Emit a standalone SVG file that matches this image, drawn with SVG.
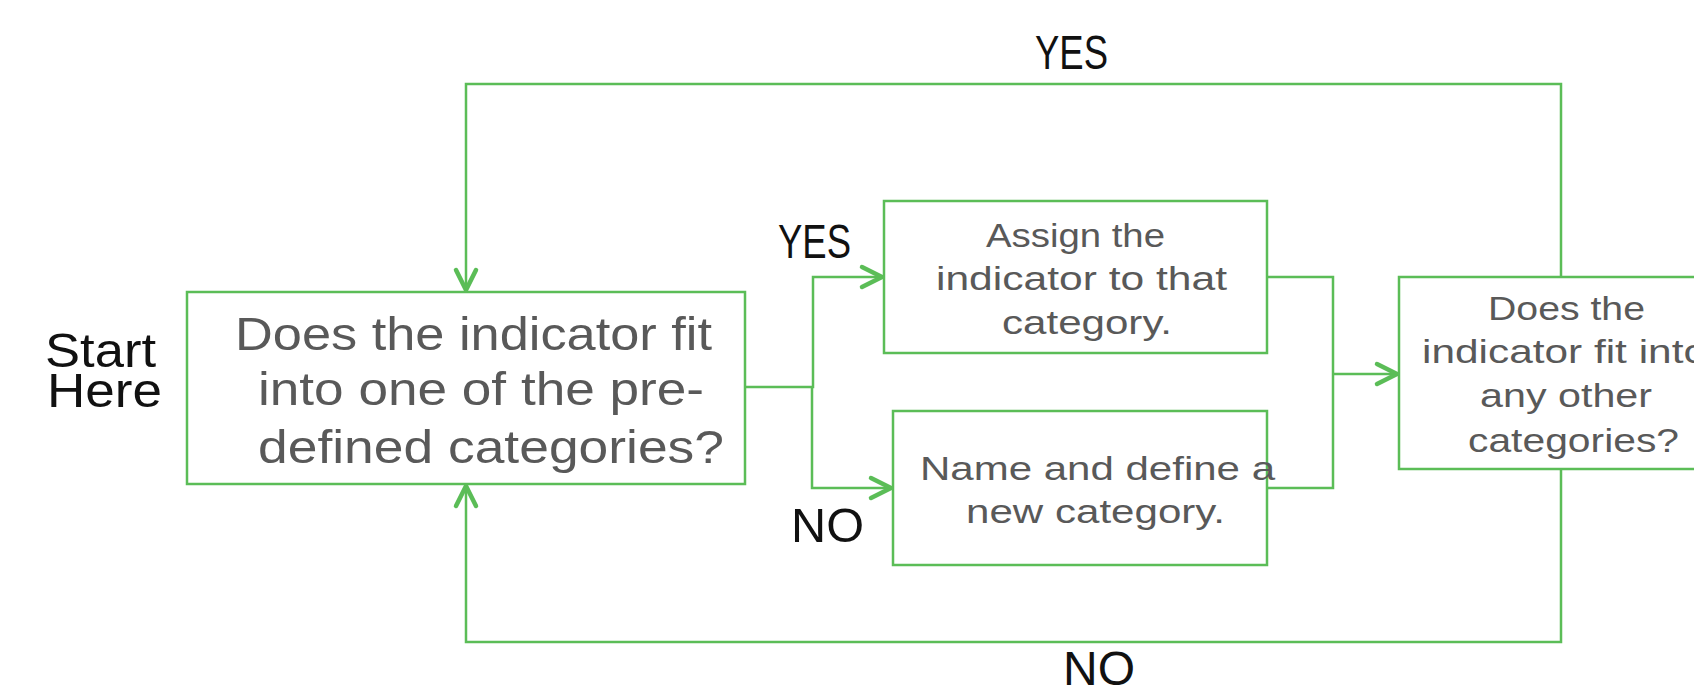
<svg xmlns="http://www.w3.org/2000/svg" width="1694" height="695" viewBox="0 0 1694 695">
  <style>
    .box { fill: #ffffff; stroke: #5BBD57; stroke-width: 2.5; }
    .conn { fill: none; stroke: #5BBD57; stroke-width: 2.5; }
    .t { font-family: "Liberation Sans", Arial, sans-serif; fill: #595959; }
    .big { font-size: 47px; }
    .mid { font-size: 33px; }
    .lab { font-family: "Liberation Sans", Arial, sans-serif; fill: #111111; font-size: 48px; }
  </style>
  <defs>
    <marker id="arr" viewBox="-24 -14 28 28" refX="0" refY="0" markerWidth="28" markerHeight="28" markerUnits="userSpaceOnUse" orient="auto">
      <path d="M -20 -10 L 0 0 L -20 10" fill="none" stroke="#5BBD57" stroke-width="4.5" stroke-linecap="round" stroke-linejoin="round"/>
    </marker>
  </defs>
  <rect width="1694" height="695" fill="#ffffff"/>

  <g id="connectors">
    <polyline class="conn" points="745,387 813,387 813,277 882,277" marker-end="url(#arr)"/>
    <polyline class="conn" points="812,387 812,488 891,488" marker-end="url(#arr)"/>
    <polyline class="conn" points="1267,277 1333,277 1333,488 1267,488"/>
    <polyline class="conn" points="1333,374 1397,374" marker-end="url(#arr)"/>
    <polyline class="conn" points="1561,277 1561,84 466,84 466,290" marker-end="url(#arr)"/>
    <polyline class="conn" points="1561,469 1561,642 466,642 466,486" marker-end="url(#arr)"/>
  </g>

  <g id="start-label">
    <text class="lab" font-size="52"><tspan x="45" y="367" textLength="111" lengthAdjust="spacingAndGlyphs">Start</tspan><tspan x="47" y="407" textLength="115" lengthAdjust="spacingAndGlyphs">Here</tspan></text>
  </g>

  <g id="node-question1">
    <rect class="box" x="187" y="292" width="558" height="192"/>
    <text class="t big" x="235" y="350" textLength="477" lengthAdjust="spacingAndGlyphs">Does the indicator fit</text>
    <text class="t big" x="258" y="405" textLength="446" lengthAdjust="spacingAndGlyphs">into one of the pre-</text>
    <text class="t big" x="258" y="463" textLength="466" lengthAdjust="spacingAndGlyphs">defined categories?</text>
  </g>

  <g id="node-assign">
    <rect class="box" x="884" y="201" width="383" height="152"/>
    <text class="t mid" x="986" y="247" textLength="179" lengthAdjust="spacingAndGlyphs">Assign the</text>
    <text class="t mid" x="936" y="290" textLength="291" lengthAdjust="spacingAndGlyphs">indicator to that</text>
    <text class="t mid" x="1002" y="334" textLength="170" lengthAdjust="spacingAndGlyphs">category.</text>
  </g>

  <g id="node-name">
    <rect class="box" x="893" y="411" width="374" height="154"/>
    <text class="t mid" x="920" y="480" textLength="355" lengthAdjust="spacingAndGlyphs">Name and define a</text>
    <text class="t mid" x="966" y="523" textLength="259" lengthAdjust="spacingAndGlyphs">new category.</text>
  </g>

  <g id="node-question2">
    <rect class="box" x="1399" y="277" width="320" height="192"/>
    <text class="t mid" x="1488" y="320" textLength="157" lengthAdjust="spacingAndGlyphs">Does the</text>
    <text class="t mid" x="1422" y="363" textLength="285" lengthAdjust="spacingAndGlyphs">indicator fit into</text>
    <text class="t mid" x="1480" y="407" textLength="172" lengthAdjust="spacingAndGlyphs">any other</text>
    <text class="t mid" x="1468" y="452" textLength="211" lengthAdjust="spacingAndGlyphs">categories?</text>
  </g>

  <g id="labels">
    <text class="lab" x="1035" y="69" textLength="73" lengthAdjust="spacingAndGlyphs">YES</text>
    <text class="lab" x="778" y="258" textLength="73" lengthAdjust="spacingAndGlyphs">YES</text>
    <text class="lab" x="791" y="542" textLength="73" lengthAdjust="spacingAndGlyphs">NO</text>
    <text class="lab" x="1063" y="685" textLength="72" lengthAdjust="spacingAndGlyphs">NO</text>
  </g>
</svg>
